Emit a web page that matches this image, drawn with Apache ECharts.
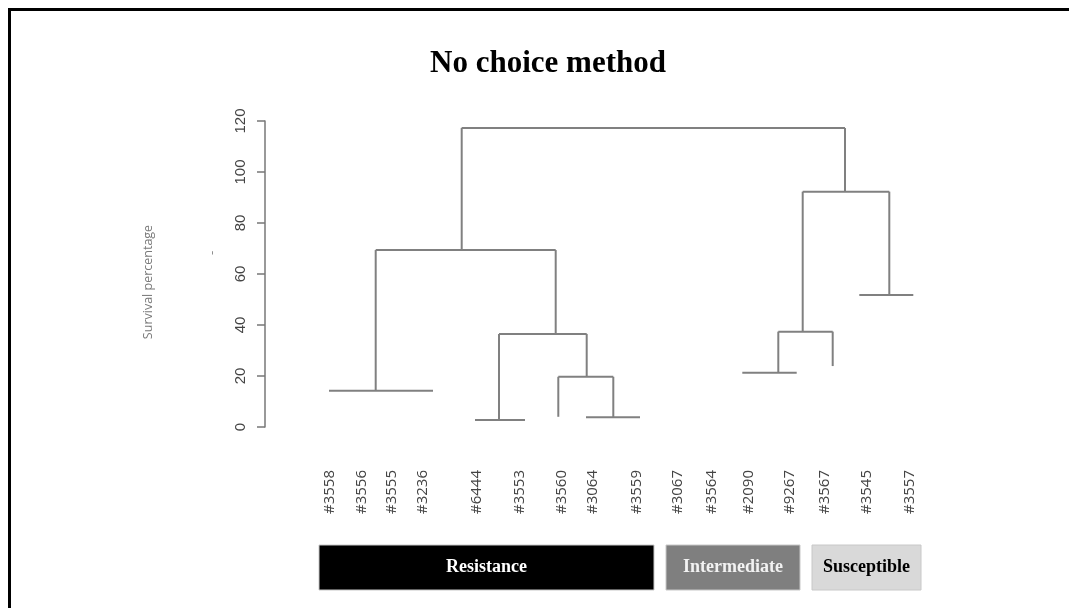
<!DOCTYPE html>
<html>
<head>
<meta charset="utf-8">
<script src="https://cdn.jsdelivr.net/npm/echarts@6/dist/echarts.min.js"></script>
<style>
html,body{margin:0;padding:0;background:#fff;}
#chart{width:1069px;height:608px;}
</style>
</head>
<body>
<div id="chart"></div>
<script>
// Leaf labels and their positions along the horizontal axis
const leafNames = ['#3558','#3556','#3555','#3236','#6444','#3553','#3560','#3064','#3559','#3067','#3564','#2090','#9267','#3567','#3545','#3557'];
const leafX = [330, 362, 392, 423, 477, 520, 562, 593, 637, 678, 712, 749, 790, 825, 867, 910];

// Horizontal dendrogram bars: [height, xFrom, xTo]
const hBars = [
  [117.3, 461.7, 845],
  [69.4, 375.7, 555.7],
  [14.2, 329, 433],
  [36.5, 499, 586.7],
  [2.7, 475, 525],
  [19.7, 558.3, 613.3],
  [3.8, 586, 640],
  [92.3, 802.7, 889.3],
  [37.4, 778.3, 832.7],
  [21.3, 742.3, 796.7],
  [51.8, 859.3, 913.3]
];
// Vertical dendrogram stems: [x, lowHeight, highHeight]
const vStems = [
  [461.7, 69.4, 117.3],
  [845, 92.3, 117.3],
  [375.7, 14.2, 69.4],
  [555.7, 36.5, 69.4],
  [499, 2.7, 36.5],
  [586.7, 19.7, 36.5],
  [558.3, 4.0, 19.7],
  [613.3, 3.8, 19.7],
  [802.7, 37.4, 92.3],
  [889.3, 51.8, 92.3],
  [778.3, 21.3, 37.4],
  [832.7, 23.9, 37.4]
];

// Y-axis ticks
const yMin = 0, yMax = 120, yStep = 20;

// Group bars
const groupNames = ['Resistance', 'Intermediate', 'Susceptible'];
const groupFill = ['#000000', '#7f7f7f', '#d9d9d9'];
const groupText = ['#ffffff', '#f2f2f2', '#000000'];

const segs = [];
hBars.forEach(b => segs.push([b[1], b[0], b[2], b[0]]));
vStems.forEach(s => segs.push([s[0], s[1], s[0], s[2]]));

const chart = echarts.init(document.getElementById('chart'), null, {renderer: 'canvas'});

// group box layout (pixels)
const boxes = [[319, 335], [666, 134], [812, 109]];
const boxTop = 545, boxH = 45;
const groupGraphics = [];
groupNames.forEach((n, i) => {
  groupGraphics.push({
    type: 'rect', shape: {x: boxes[i][0], y: boxTop, width: boxes[i][1], height: boxH},
    style: {fill: groupFill[i], stroke: '#c8c8c8', lineWidth: 1}
  });
  groupGraphics.push({
    type: 'text', x: boxes[i][0] + boxes[i][1] / 2, y: boxTop + boxH / 2,
    style: {text: n, fill: groupText[i], font: 'bold 18px "Liberation Serif", "Times New Roman", serif',
      textAlign: 'center', textVerticalAlign: 'middle'}
  });
});

chart.setOption({
  animation: false,
  backgroundColor: '#ffffff',
  title: {
    text: 'No choice method',
    left: 543, top: 43, textAlign: 'center',
    textStyle: {fontFamily: '"Liberation Serif", "Times New Roman", serif', fontWeight: 'bold', fontSize: 31, color: '#000'}
  },
  grid: {left: 265, right: 139, top: 121, bottom: 181, containLabel: false},
  xAxis: {
    type: 'value', min: 265, max: 930,
    axisLine: {show: false}, axisTick: {show: false}, splitLine: {show: false},
    axisLabel: {
      customValues: leafX,
      rotate: 90, margin: 43, fontSize: 15, color: '#444',
      fontFamily: '"Open Sans", "Noto Sans", sans-serif',
      formatter: v => { const i = leafX.indexOf(v); return i >= 0 ? leafNames[i] : ''; }
    }
  },
  yAxis: {
    type: 'value', min: yMin, max: yMax, interval: yStep,
    splitLine: {show: false},
    axisLine: {show: true, lineStyle: {color: '#777', width: 1.5}},
    axisTick: {show: true, length: 8, lineStyle: {color: '#777', width: 1.5}},
    axisLabel: {rotate: 90, margin: 17, fontSize: 15, color: '#444', fontFamily: '"Liberation Sans", Arial, sans-serif'}
  },
  series: [{
    type: 'custom',
    coordinateSystem: 'cartesian2d',
    data: segs,
    encode: {x: [0, 2], y: [1, 3]},
    renderItem: (params, api) => {
      const p1 = api.coord([api.value(0), api.value(1)]);
      const p2 = api.coord([api.value(2), api.value(3)]);
      return {type: 'line', shape: {x1: p1[0], y1: p1[1], x2: p2[0], y2: p2[1]},
        style: {stroke: '#808080', lineWidth: 2}};
    }
  }],
  graphic: [
    {type: 'polyline', shape: {points: [[9.5, 608], [9.5, 9.5], [1069, 9.5]]}, style: {stroke: '#000', lineWidth: 3, fill: null}},
    {type: 'text', x: 148, y: 282, rotation: Math.PI / 2,
      style: {text: 'Survival percentage', fill: '#7a7a7a', font: '12.5px "Open Sans", "Noto Sans", sans-serif', textAlign: 'center', textVerticalAlign: 'middle'}},
    {type: 'text', x: 212, y: 253, rotation: Math.PI / 2,
      style: {text: '-', fill: '#888', font: '13px "Open Sans", sans-serif', textAlign: 'center', textVerticalAlign: 'middle'}}
  ].concat(groupGraphics)
});
</script>
</body>
</html>
